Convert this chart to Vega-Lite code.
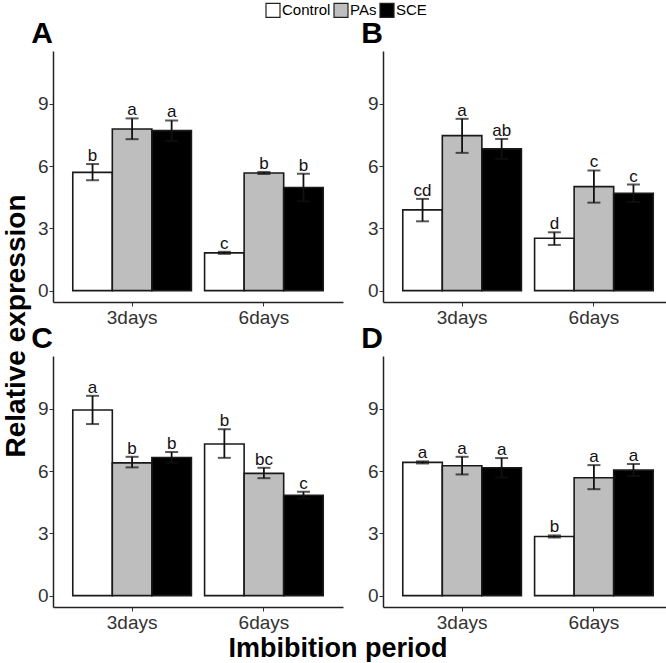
{
  "$schema": "https://vega.github.io/schema/vega-lite/v6.json",
  "background": "white",
  "padding": {"left": 2, "top": 2, "right": 1, "bottom": 0},
  "config": {
    "view": {"stroke": null},
    "font": "Liberation Sans"
  },
  "title": {
    "text": "Imbibition period",
    "orient": "bottom",
    "anchor": "middle",
    "fontSize": 27,
    "fontWeight": "bold",
    "color": "black",
    "font": "Liberation Sans",
    "offset": 4
  },
  "data": {
    "values": [
      {"panel": "A", "period": "3days", "treatment": "Control", "mean": 5.70, "lo": 5.32, "hi": 6.10, "letter": "b"},
      {"panel": "A", "period": "3days", "treatment": "PAs", "mean": 7.79, "lo": 7.30, "hi": 8.30, "letter": "a"},
      {"panel": "A", "period": "3days", "treatment": "SCE", "mean": 7.71, "lo": 7.21, "hi": 8.20, "letter": "a"},
      {"panel": "A", "period": "6days", "treatment": "Control", "mean": 1.82, "lo": 1.77, "hi": 1.87, "letter": "c"},
      {"panel": "A", "period": "6days", "treatment": "PAs", "mean": 5.67, "lo": 5.62, "hi": 5.72, "letter": "b"},
      {"panel": "A", "period": "6days", "treatment": "SCE", "mean": 4.97, "lo": 4.31, "hi": 5.63, "letter": "b"},
      {"panel": "B", "period": "3days", "treatment": "Control", "mean": 3.89, "lo": 3.34, "hi": 4.42, "letter": "cd"},
      {"panel": "B", "period": "3days", "treatment": "PAs", "mean": 7.47, "lo": 6.64, "hi": 8.28, "letter": "a"},
      {"panel": "B", "period": "3days", "treatment": "SCE", "mean": 6.83, "lo": 6.35, "hi": 7.31, "letter": "ab"},
      {"panel": "B", "period": "6days", "treatment": "Control", "mean": 2.52, "lo": 2.20, "hi": 2.81, "letter": "d"},
      {"panel": "B", "period": "6days", "treatment": "PAs", "mean": 5.01, "lo": 4.24, "hi": 5.79, "letter": "c"},
      {"panel": "B", "period": "6days", "treatment": "SCE", "mean": 4.69, "lo": 4.27, "hi": 5.11, "letter": "c"},
      {"panel": "C", "period": "3days", "treatment": "Control", "mean": 8.95, "lo": 8.27, "hi": 9.63, "letter": "a"},
      {"panel": "C", "period": "3days", "treatment": "PAs", "mean": 6.40, "lo": 6.18, "hi": 6.69, "letter": "b"},
      {"panel": "C", "period": "3days", "treatment": "SCE", "mean": 6.66, "lo": 6.40, "hi": 6.92, "letter": "b"},
      {"panel": "C", "period": "6days", "treatment": "Control", "mean": 7.31, "lo": 6.64, "hi": 8.02, "letter": "b"},
      {"panel": "C", "period": "6days", "treatment": "PAs", "mean": 5.89, "lo": 5.66, "hi": 6.16, "letter": "bc"},
      {"panel": "C", "period": "6days", "treatment": "SCE", "mean": 4.84, "lo": 4.68, "hi": 5.00, "letter": "c"},
      {"panel": "D", "period": "3days", "treatment": "Control", "mean": 6.42, "lo": 6.37, "hi": 6.47, "letter": "a"},
      {"panel": "D", "period": "3days", "treatment": "PAs", "mean": 6.26, "lo": 5.84, "hi": 6.69, "letter": "a"},
      {"panel": "D", "period": "3days", "treatment": "SCE", "mean": 6.16, "lo": 5.69, "hi": 6.63, "letter": "a"},
      {"panel": "D", "period": "6days", "treatment": "Control", "mean": 2.85, "lo": 2.80, "hi": 2.90, "letter": "b"},
      {"panel": "D", "period": "6days", "treatment": "PAs", "mean": 5.68, "lo": 5.13, "hi": 6.29, "letter": "a"},
      {"panel": "D", "period": "6days", "treatment": "SCE", "mean": 6.05, "lo": 5.76, "hi": 6.34, "letter": "a"}
    ]
  },
  "facet": {
    "field": "panel",
    "type": "nominal",
    "header": {
      "title": "Relative expression",
      "titleOrient": "left",
      "titleFontSize": 28,
      "titleFontWeight": "bold",
      "titleColor": "black",
      "titleFont": "Liberation Sans",
      "titlePadding": 0,
      "labelOrient": "top",
      "labelAnchor": "start",
      "labelAlign": "right",
      "labelFontSize": 30,
      "labelFontWeight": "bold",
      "labelColor": "black",
      "labelFont": "Liberation Sans",
      "labelPadding": 2
    }
  },
  "columns": 2,
  "spacing": {"row": -3, "column": 18},
  "resolve": {"axis": {"x": "independent", "y": "independent"}},
  "spec": {
    "width": 290,
    "height": 251,
    "encoding": {
      "x": {
        "field": "period",
        "type": "nominal",
        "scale": {"paddingInner": 0.1, "paddingOuter": 0.15},
        "axis": {
          "title": null,
          "labelAngle": 0,
          "labelFontSize": 19,
          "labelColor": "#333333",
          "labelPadding": 2,
          "tickSize": 4,
          "tickColor": "#333333",
          "domainColor": "#222222",
          "domainWidth": 1.5
        }
      },
      "xOffset": {
        "field": "treatment",
        "type": "nominal",
        "sort": ["Control", "PAs", "SCE"],
        "scale": {"paddingInner": 0, "paddingOuter": 0}
      }
    },
    "layer": [
      {
        "mark": {"type": "bar", "stroke": "#1a1a1a", "strokeWidth": 1.6},
        "encoding": {
          "y": {
            "field": "mean",
            "type": "quantitative",
            "scale": {"domain": [-0.55, 11.55], "nice": false, "zero": false},
            "axis": {
              "title": null,
              "values": [0, 3, 6, 9],
              "grid": false,
              "labelFontSize": 19,
              "labelColor": "#333333",
              "labelPadding": 1,
              "tickSize": 4,
              "tickColor": "#333333",
              "domainColor": "#222222",
              "domainWidth": 1.5
            }
          },
          "y2": {"datum": 0},
          "fill": {
            "field": "treatment",
            "type": "nominal",
            "sort": ["Control", "PAs", "SCE"],
            "scale": {"domain": ["Control", "PAs", "SCE"], "range": ["#ffffff", "#bebebe", "#000000"]},
            "legend": {
              "title": null,
              "orient": "none",
              "direction": "horizontal",
              "legendX": 212,
              "legendY": -49,
              "symbolType": "square",
              "symbolSize": 196,
              "symbolStrokeColor": "#222222",
              "symbolStrokeWidth": 1.2,
              "labelFontSize": 15,
              "labelColor": "black",
              "labelOffset": 1,
              "columnPadding": 0
            }
          }
        }
      },
      {
        "mark": {"type": "rule", "color": "#111111", "strokeWidth": 1.8},
        "encoding": {
          "y": {"field": "lo", "type": "quantitative"},
          "y2": {"field": "hi"}
        }
      },
      {
        "mark": {"type": "tick", "color": "#111111", "size": 13, "thickness": 2, "orient": "horizontal"},
        "encoding": {"y": {"field": "hi", "type": "quantitative"}}
      },
      {
        "mark": {"type": "tick", "color": "#111111", "size": 13, "thickness": 2, "orient": "horizontal"},
        "encoding": {"y": {"field": "lo", "type": "quantitative"}}
      },
      {
        "mark": {"type": "text", "baseline": "bottom", "fontSize": 17, "color": "#111111", "dy": 1},
        "encoding": {
          "y": {"field": "hi", "type": "quantitative"},
          "text": {"field": "letter"}
        }
      }
    ]
  }
}
